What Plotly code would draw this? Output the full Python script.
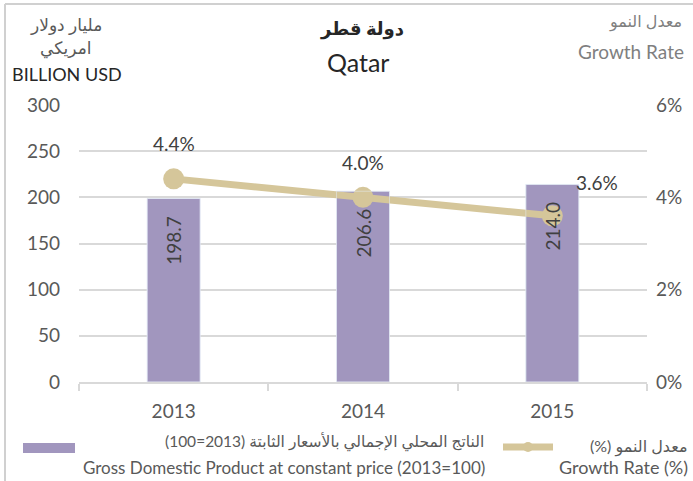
import plotly.graph_objects as go

# ---- data ----
years = ["2013", "2014", "2015"]
gdp_values = [198.7, 206.6, 214.0]
growth_rates = [0.044, 0.040, 0.036]
growth_labels = ["4.4%", "4.0%", "3.6%"]
left_ticks = [0, 50, 100, 150, 200, 250, 300]
right_ticks = [0, 0.02, 0.04, 0.06]

W, H = 693, 481
L, R, T, B = 79, 647, 105, 382

def px(x):
    return (x - L) / (R - L)

def py(y):
    return (B - y) / (B - T)

BAR = "#a196be"
LINE = "#d5c69a"
GRID = "#d9d9d9"
TXT = "#595959"
FONT = "Lato, DejaVu Sans, sans-serif"
NUM = 19

fig = go.Figure()
# bar fills (bottom layer)
fig.add_trace(go.Bar(
    x=years, y=gdp_values, marker_color=BAR, width=0.28,
    showlegend=False, hoverinfo="skip",
))
# growth line (middle layer)
fig.add_trace(go.Scatter(
    x=years, y=growth_rates, yaxis="y2", mode="lines+markers",
    line=dict(color=LINE, width=7), marker=dict(size=21, color=LINE),
    showlegend=False, cliponaxis=False,
))
# bar value labels drawn above the line
fig.add_trace(go.Bar(
    x=years, y=gdp_values, yaxis="y3", width=0.28, marker_color="rgba(0,0,0,0)",
    texttemplate="%{y:.1f}\u00a0\u00a0\u00a0", textposition="inside", insidetextanchor="end",
    textangle=-90, textfont=dict(size=NUM, color="#404040", family=FONT),
    showlegend=False, hoverinfo="skip",
))

ann = []
shifts = [(0, 35), (0, 35), (45, 33)]
for i, (v, lab, (xs, ys)) in enumerate(zip(growth_rates, growth_labels, shifts)):
    ann.append(dict(x=i, y=v, xref="x", yref="y2", text=lab, showarrow=False,
                    xshift=xs, yshift=ys, font=dict(size=NUM, color="#404040", family=FONT)))

def txt(x, y, s, size=16, color=TXT, anchor="center", bold=False):
    if bold:
        s = "<b>" + s + "</b>"
    ann.append(dict(x=px(x), y=py(y), xref="paper", yref="paper", text=s, showarrow=False,
                    xanchor=anchor, yanchor="middle", font=dict(size=size, color=color, family=FONT)))

RLE, PDF = "\u202B", "\u202C"
# titles
txt(362, 28, "دولة قطر", size=18, color="#262626", bold=True)
txt(358, 62, "Qatar", size=25, color="#262626")
txt(66, 24, "مليار دولار", size=17)
txt(66, 48, "امريكي", size=17)
txt(67, 74, "BILLION USD", size=18, color="#262626")
txt(684, 22, "معدل النمو", size=16, color="#7f7f7f", anchor="right")
txt(686, 52, "Growth Rate", size=19, color="#7f7f7f", anchor="right")
# legend texts
txt(486, 442, RLE + "الناتج المحلي الإجمالي بالأسعار الثابتة (2013=100)" + PDF, size=15.5, anchor="right")
txt(487, 467, "Gross Domestic Product at constant price (2013=100)", size=17, anchor="right")
txt(690, 446, RLE + "معدل النمو (%)" + PDF, size=16, anchor="right")
txt(690, 467, "Growth Rate (%)", size=18, anchor="right")

shapes = [
    dict(type="rect", xref="paper", yref="paper", x0=px(23), x1=px(75), y0=py(443), y1=py(453),
         fillcolor=BAR, line=dict(width=0)),
    dict(type="line", xref="paper", yref="paper", x0=px(503), x1=px(553), y0=py(447), y1=py(447),
         line=dict(color=LINE, width=7)),
    dict(type="circle", xref="paper", yref="paper", x0=px(523), x1=px(533), y0=py(442), y1=py(452),
         fillcolor=LINE, line=dict(width=0)),
    dict(type="line", xref="paper", yref="paper", x0=px(5), x1=px(W + 5), y0=py(4), y1=py(4),
         line=dict(color="#d0d0d0", width=2)),
    dict(type="line", xref="paper", yref="paper", x0=px(5), x1=px(5), y0=py(4), y1=py(H + 5),
         line=dict(color="#d0d0d0", width=2)),
]

fig.update_layout(
    width=W, height=H,
    margin=dict(l=L, r=W - R, t=T, b=H - B, pad=0),
    paper_bgcolor="white", plot_bgcolor="white",
    font=dict(family=FONT, color=TXT, size=NUM),
    annotations=ann, shapes=shapes, showlegend=False, barmode="overlay",
    xaxis=dict(type="category", range=[-0.5, 2.5], showline=True, linecolor=GRID, linewidth=2,
               ticks="outside", tickson="boundaries", ticklen=7, tickcolor=GRID, tickwidth=2,
               tickfont=dict(size=NUM, color=TXT), ticklabelstandoff=11),
    yaxis=dict(range=[0, 300], tickvals=left_ticks, showgrid=True, gridcolor=GRID, gridwidth=2,
               zeroline=False, showline=False, tickfont=dict(size=NUM, color=TXT),
               ticklabelstandoff=18),
    yaxis2=dict(range=[0, 0.06], tickvals=right_ticks, tickformat=".0%", overlaying="y",
                side="right", showgrid=False, zeroline=False, showline=False,
                tickfont=dict(size=NUM, color=TXT), ticklabelstandoff=8),
    yaxis3=dict(range=[0, 300], overlaying="y", visible=False),
)

fig.write_html("out.html", config={"displayModeBar": False},
               post_script="document.body.style.margin='0';document.body.style.overflow='hidden';")
